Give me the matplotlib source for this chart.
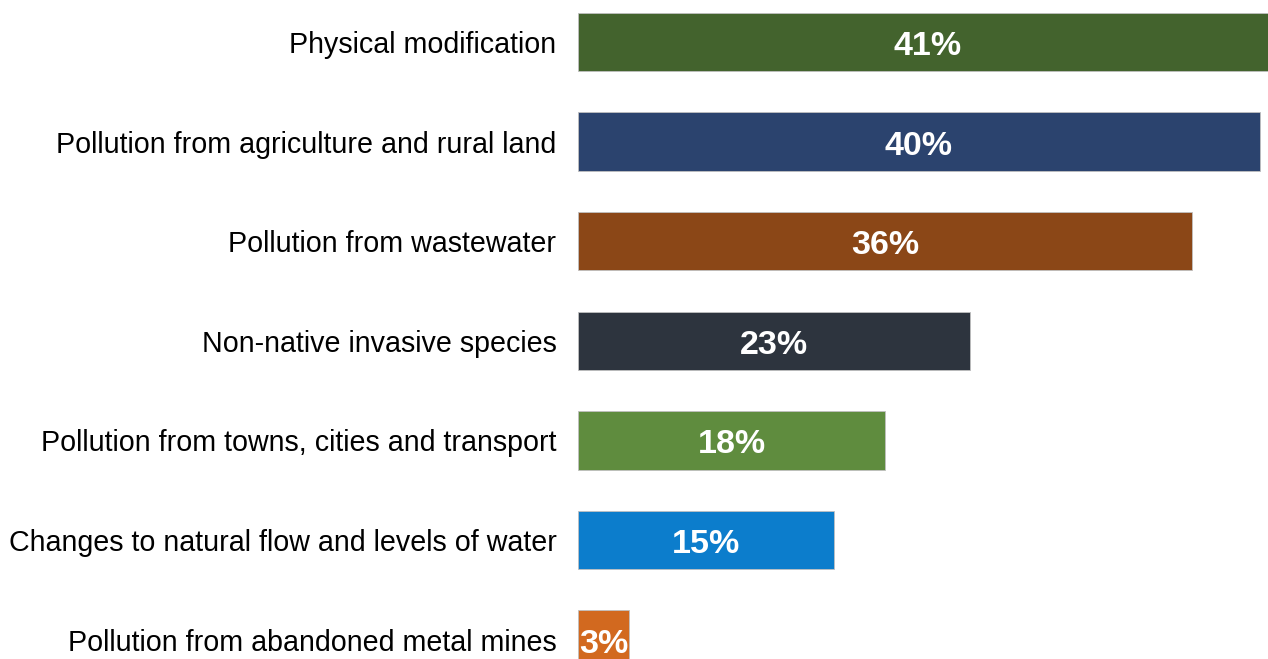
import matplotlib.pyplot as plt

plt.rcParams['font.family'] = ['Liberation Sans', 'DejaVu Sans']

categories = ['Physical modification',
              'Pollution from agriculture and rural land',
              'Pollution from wastewater',
              'Non-native invasive species',
              'Pollution from towns, cities and transport',
              'Changes to natural flow and levels of water',
              'Pollution from abandoned metal mines']
values = [41, 40, 36, 23, 18, 15, 3]
colors = ['#43632d', '#2b436e', '#8b4717', '#2d343e', '#5f8c3e', '#0c7dcc', '#d2691f']

fig = plt.figure(figsize=(12.68, 6.59), dpi=100)
ax = fig.add_axes([578 / 1268, 0, 1 - 578 / 1268, 1])

ypos = list(range(len(categories)))
ax.barh(ypos, values, height=0.585, color=colors, edgecolor='#c0c0c0', linewidth=0.6)

# value labels inside bars
for y, v in zip(ypos, values):
    ax.text(v / 2, y + 0.045, f'{v}%', color='white', fontsize=24.5, fontweight='bold',
            ha='center', va='center')

ax.set_xlim(0, 40.47)
ax.set_ylim(6.195, -0.4217)
ax.set_yticks(ypos)
ax.set_yticklabels(categories, fontsize=20.6)
ax.tick_params(axis='y', length=0, pad=15.5)
ax.set_xticks([])
for s in ax.spines.values():
    s.set_visible(False)

fig.savefig('out.png', dpi=100)
